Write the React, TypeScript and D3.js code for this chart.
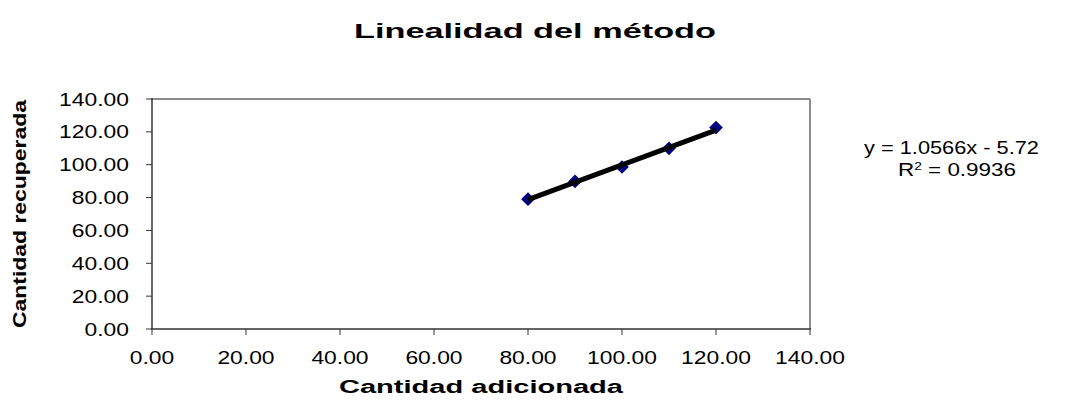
import React from "react";
import * as d3 from "d3";

const added = [80, 90, 100, 110, 120];
const recovered = [79.0, 89.8, 98.6, 110.0, 122.6];
const trendSlope = 1.0566;
const trendIntercept = -5.72;
const xTicks = [0, 20, 40, 60, 80, 100, 120, 140];
const yTicks = [0, 20, 40, 60, 80, 100, 120, 140];
const titleText = "Linealidad del método";
const xLabel = "Cantidad adicionada";
const yLabel = "Cantidad recuperada";
const eqLine1 = "y = 1.0566x - 5.72";
const eqLine2Val = " = 0.9936";

export default function App() {
  const W = 1074, H = 412;
  const left = 152, right = 810, top = 99, bottom = 329;
  const x = d3.scaleLinear().domain([0, 140]).range([left, right]);
  const y = d3.scaleLinear().domain([0, 140]).range([bottom, top]);
  const font = "Liberation Sans, Arial, sans-serif";
  const fmt = d3.format(".2f");
  const x0 = d3.min(added)!, x1 = d3.max(added)!;
  const trend = d3.line<number>().x(d => x(d)).y(d => y(trendSlope * d + trendIntercept));
  const diamond = d3.symbol().type(d3.symbolDiamond2).size(120)();
  const sx = 1.27;

  return (
    <svg width={W} height={H} style={{ position: "absolute", left: 0, top: 0, background: "#fff" }} fontFamily={font}>
      <text x={535} y={38} textAnchor="middle" fontSize={21} fontWeight="bold" textLength={362} lengthAdjust="spacingAndGlyphs">{titleText}</text>
      {/* plot frame */}
      <line x1={left} x2={right} y1={top} y2={top} stroke="#8c8c8c" strokeWidth={2} />
      <line x1={right} x2={right} y1={top} y2={bottom} stroke="#8c8c8c" strokeWidth={2} />
      <line x1={left} x2={left} y1={top - 1} y2={bottom} stroke="#333" strokeWidth={1.5} />
      <line x1={left - 1} x2={right + 1} y1={bottom} y2={bottom} stroke="#333" strokeWidth={1.5} />
      {yTicks.map(t => (
        <g key={"y" + t}>
          <line x1={left - 6} x2={left} y1={y(t)} y2={y(t)} stroke="#333" strokeWidth={1} />
          <text transform={`translate(129,${y(t) + 6.5}) scale(${sx},1)`} textAnchor="end" fontSize={18}>{fmt(t)}</text>
        </g>
      ))}
      {xTicks.map(t => (
        <g key={"x" + t}>
          <line x1={x(t)} x2={x(t)} y1={bottom} y2={bottom + 6} stroke="#333" strokeWidth={1} />
          <text transform={`translate(${x(t)},364) scale(${sx},1)`} textAnchor="middle" fontSize={18}>{fmt(t)}</text>
        </g>
      ))}
      <text x={481} y={393} textAnchor="middle" fontSize={18} fontWeight="bold" textLength={284} lengthAdjust="spacingAndGlyphs">{xLabel}</text>
      <text transform={`translate(26,214) rotate(-90)`} textAnchor="middle" fontSize={18} fontWeight="bold" textLength={228} lengthAdjust="spacingAndGlyphs">{yLabel}</text>
      {added.map((a, i) => (
        <path key={"p" + i} d={diamond!} transform={`translate(${x(a)},${y(recovered[i])})`} fill="#000080" />
      ))}
      <path d={trend([x0, x1])!} stroke="#000" strokeWidth={5} fill="none" />
      <text x={864} y={154} fontSize={18} textLength={175} lengthAdjust="spacingAndGlyphs">{eqLine1}</text>
      <text x={898} y={176} fontSize={18} textLength={118} lengthAdjust="spacingAndGlyphs">
        R<tspan fontSize={11} dy={-6}>2</tspan><tspan dy={6}>{eqLine2Val}</tspan>
      </text>
    </svg>
  );
}
